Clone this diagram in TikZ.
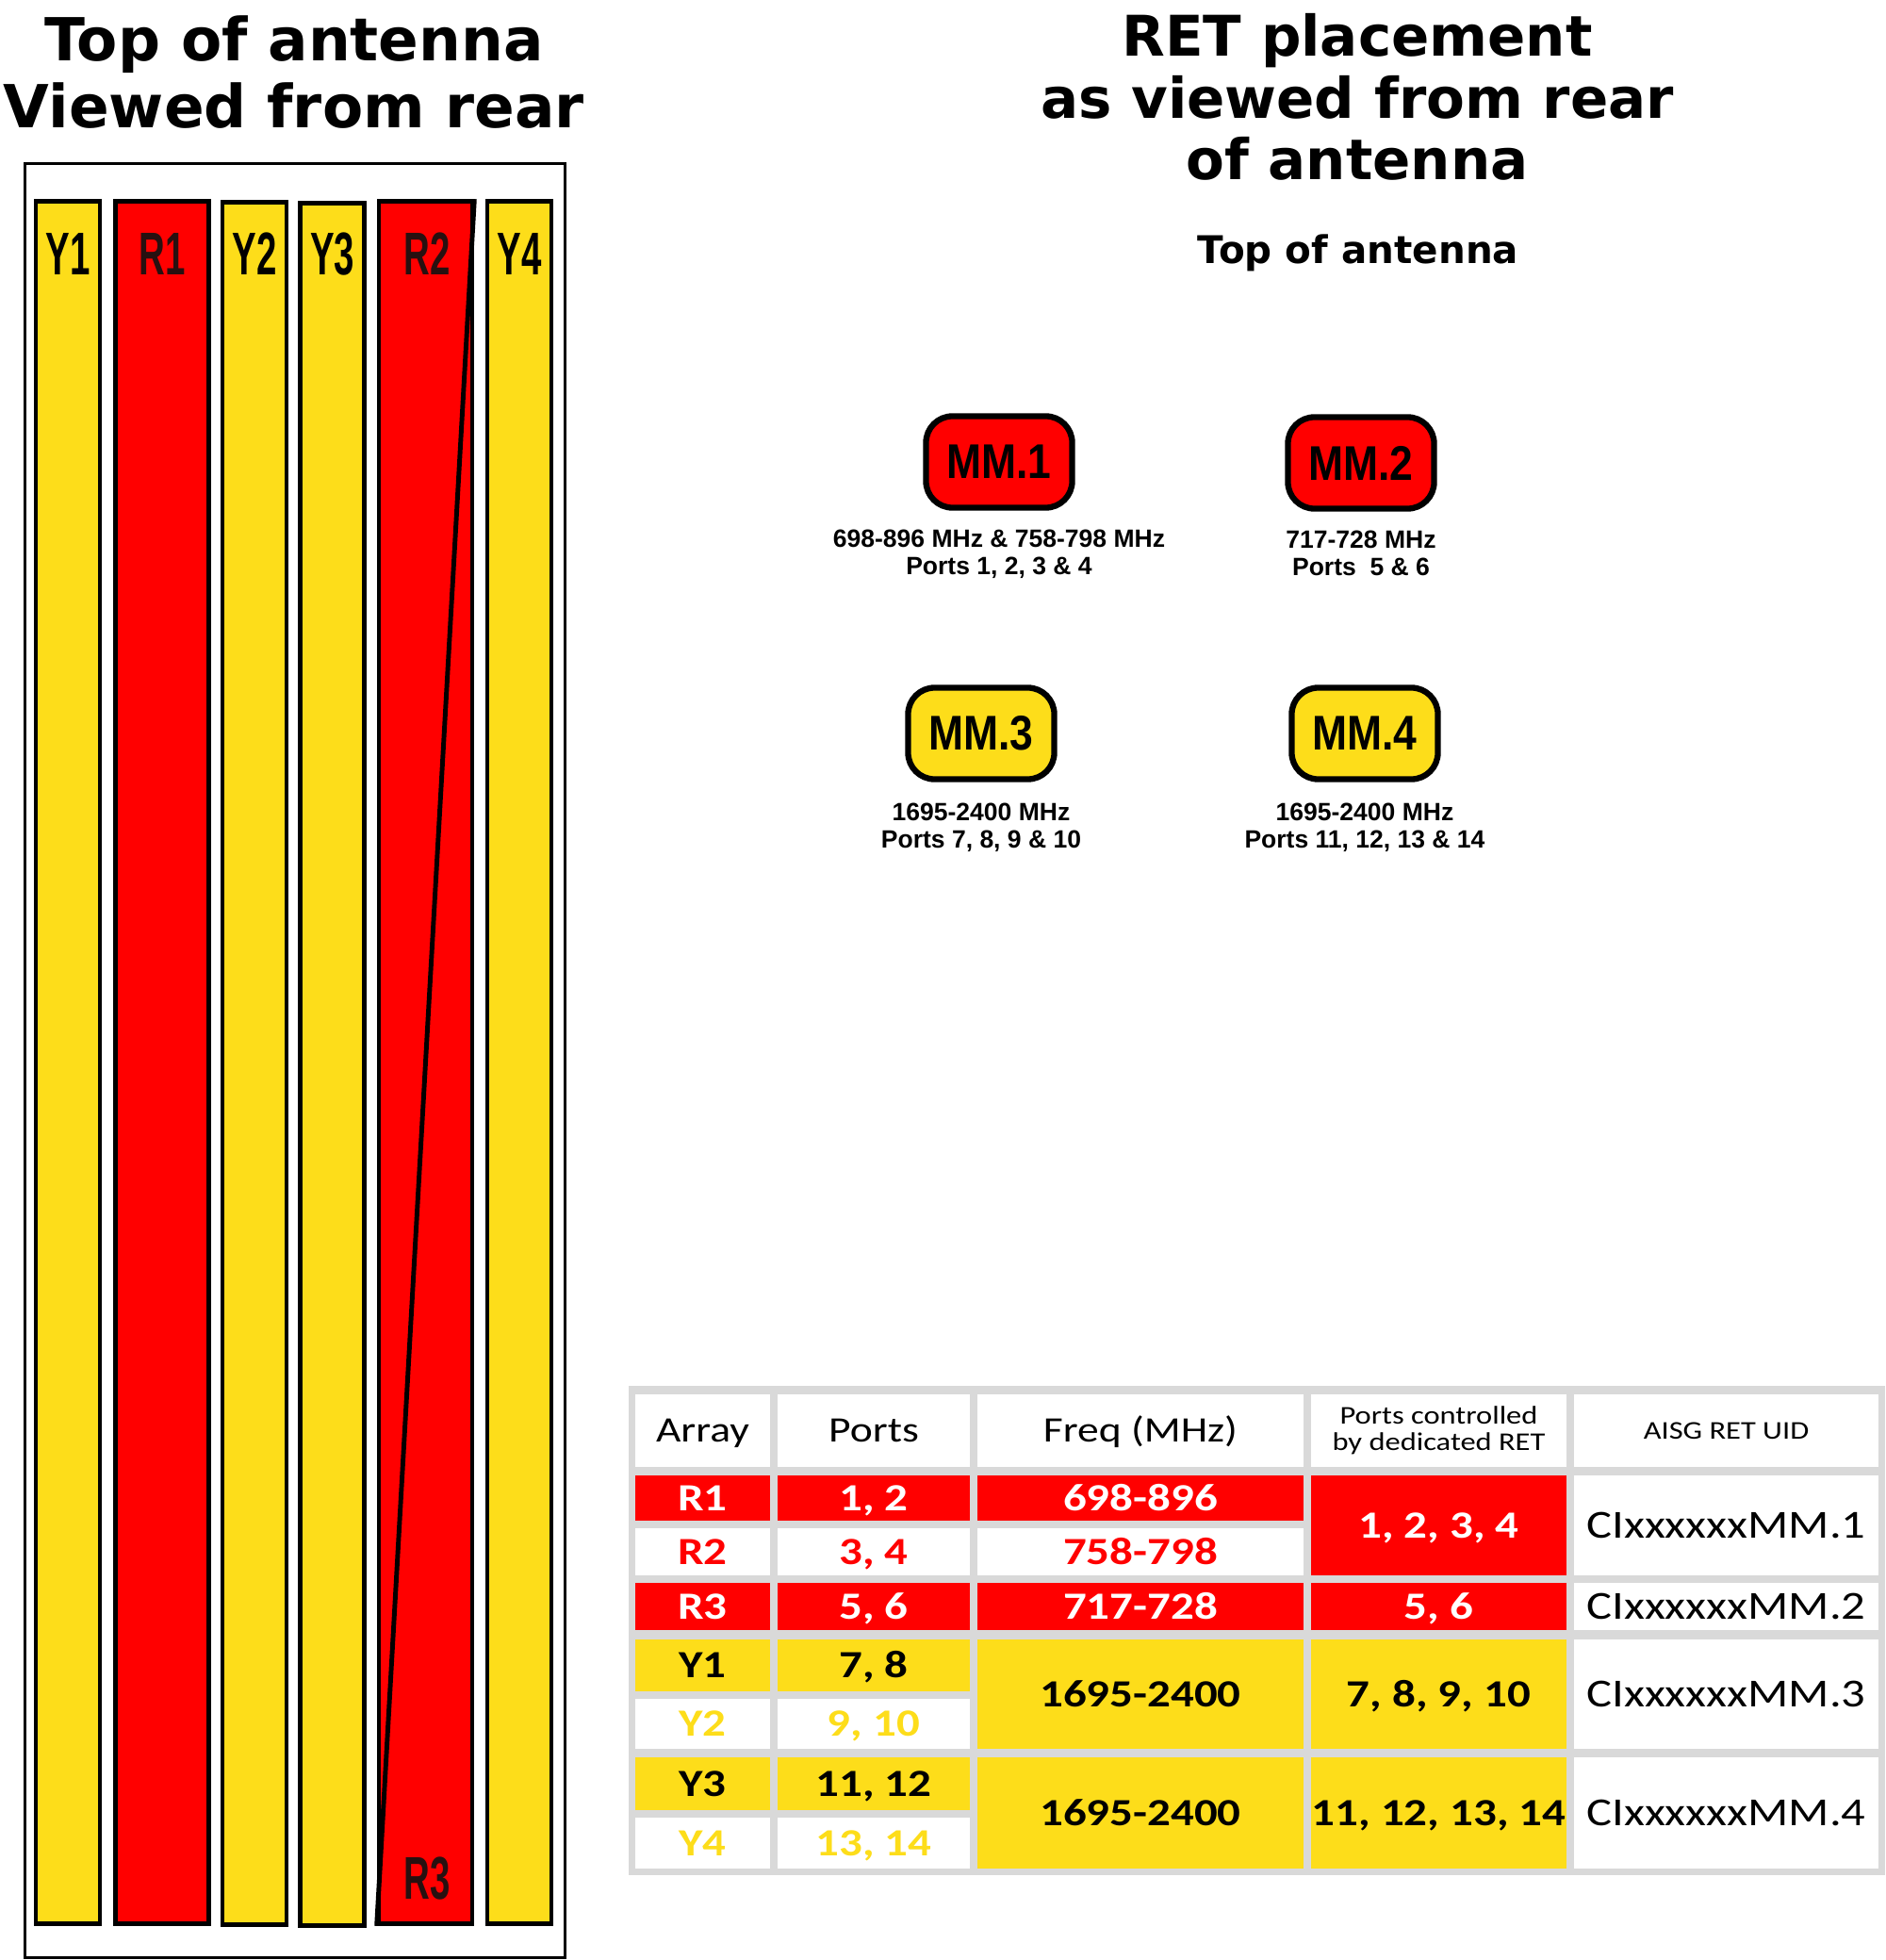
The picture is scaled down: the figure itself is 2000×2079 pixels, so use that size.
\documentclass[tikz,border=0pt]{standalone}
\usepackage{fontspec}
\setmainfont{Liberation Sans}
\newfontfamily\heavyfont{DejaVu Sans}
\newfontfamily\narrowfont{Liberation Sans}[FakeStretch=0.6]
\newfontfamily\mmfont{Liberation Sans}[FakeStretch=0.86]
\newfontfamily\tabfont{Carlito}[FakeStretch=1.2]

\definecolor{antred}{RGB}{255,0,0}
\definecolor{antyellow}{RGB}{253,221,26}
\definecolor{gridgray}{RGB}{217,217,217}
\definecolor{lbldark}{RGB}{40,16,16}

\tikzset{
  strip/.style={draw=black, line width=1.3pt, minimum height=18.26cm, inner sep=0pt},
  ystrip/.style={strip, fill=antyellow, minimum width=0.68cm},
  rstrip/.style={strip, fill=antred, minimum width=0.99cm},
  striplbl/.style={anchor=base, inner sep=0pt, font={\narrowfont\bfseries\fontsize{18.2}{20}\selectfont}},
  mmbox/.style={draw=black, line width=1.8pt, rounded corners=8pt, minimum width=1.55cm,
    minimum height=0.97cm, inner sep=0pt, font={\mmfont\bfseries\fontsize{14.7}{16}\selectfont}},
  mminfo/.style={align=center, inner sep=0pt, font={\bfseries\fontsize{7.54}{8.25}\selectfont}},
  % table cells
  cell/.style={inner sep=0pt, text depth=0pt},
  colA/.style={cell, minimum width=1.43cm},
  colB/.style={cell, minimum width=2.04cm},
  colC/.style={cell, minimum width=3.46cm},
  colD/.style={cell, minimum width=2.71cm},
  colE/.style={cell, minimum width=3.23cm},
  hdr/.style={fill=white, text height=7pt, font={\tabfont\fontsize{10.8}{12}\selectfont}},
  hdrsmall/.style={fill=white, align=center, text depth=, font={\tabfont\fontsize{7.7}{8}\selectfont}},
  body/.style={text height=7.5pt, font={\tabfont\bfseries\fontsize{11.6}{13}\selectfont}},
  uid/.style={fill=white, text height=7.7pt, font={\tabfont\fontsize{12}{13}\selectfont}},
  redcell/.style={body, fill=antred, text=white},
  whitered/.style={body, fill=white, text=antred},
  yelcell/.style={body, fill=antyellow, text=black},
  whiteyel/.style={body, fill=white, text=antyellow},
}

\begin{document}
\begin{tikzpicture}[x=0.01cm, y=-0.01cm]
\useasboundingbox (0,0) rectangle (2000,2079);

% antenna seen from the rear
\node[anchor=north, align=center, inner sep=0pt,
  font={\heavyfont\bfseries\fontsize{17.9}{20.2}\selectfont}] (lefttitle) at (312,16)
  {Top of antenna\\Viewed from rear};
\node[draw=black, line width=0.85pt, minimum width=5.73cm, minimum height=19.02cm, inner sep=0pt] (antenna) at (313,1125) {};

\node[ystrip] (y1) at (72,1127) {};
\node[rstrip] (r1) at (172,1127) {};
\node[ystrip] (y2) at (270,1128) {};
\node[ystrip] (y3) at (352.5,1129) {};
\node[rstrip] (r2) at (451.5,1127) {};
\node[ystrip] (y4) at (551,1127) {};
\draw[line width=1.4pt] (r2.north east) -- (r2.south west);

\node[striplbl] (y1lbl) at (72,292) {Y1};
\node[striplbl, text=lbldark] (r1lbl) at (172,292) {R1};
\node[striplbl] (y2lbl) at (270,292) {Y2};
\node[striplbl] (y3lbl) at (352.5,292) {Y3};
\node[striplbl, text=lbldark] (r2lbl) at (453,292) {R2};
\node[striplbl] (y4lbl) at (551,292) {Y4};
\node[striplbl, text=lbldark] (r3lbl) at (453,2014) {R3};

% RET placement
\node[anchor=north, align=center, inner sep=0pt,
  font={\heavyfont\bfseries\fontsize{16.9}{18.6}\selectfont}] (righttitle) at (1440,14)
  {RET placement\\as viewed from rear\\of antenna};
\node[anchor=base, inner sep=0pt, font={\heavyfont\bfseries\fontsize{11.5}{13}\selectfont}] (topnote) at (1441,280) {Top of antenna};

\node[mmbox, fill=antred] (mm1) at (1060,490) {MM.1};
\node[mmbox, fill=antred] (mm2) at (1444,491) {MM.2};
\node[mmbox, fill=antyellow] (mm3) at (1041,778) {MM.3};
\node[mmbox, fill=antyellow] (mm4) at (1448,778) {MM.4};

\node[mminfo, anchor=north] (mm1info) at ([yshift=-0.2cm]mm1.south) {698-896 MHz \& 758-798 MHz\\Ports 1, 2, 3 \& 4};
\node[mminfo, anchor=north] (mm2info) at ([yshift=-0.2cm]mm2.south) {717-728 MHz\\Ports\ \ 5 \& 6};
\node[mminfo, anchor=north] (mm3info) at ([yshift=-0.22cm]mm3.south) {1695-2400 MHz\\Ports 7, 8, 9 \& 10};
\node[mminfo, anchor=north] (mm4info) at ([yshift=-0.22cm]mm4.south) {1695-2400 MHz\\Ports 11, 12, 13 \& 14};

% table
\fill[gridgray] (667,1470) rectangle (2000,1989);

\node[colA, hdr, minimum height=0.77cm] (harray) at (745.5,1517.5) {Array};
\node[colB, hdr, minimum height=0.77cm] (hports) at (927,1517.5) {Ports};
\node[colC, hdr, minimum height=0.77cm] (hfreq) at (1210,1517.5) {Freq (MHz)};
\node[colD, hdrsmall, minimum height=0.77cm] (hret) at (1526.5,1517.5) {Ports controlled\\by dedicated RET};
\node[colE, hdrsmall, minimum height=0.77cm] (huid) at (1831.5,1517.5) {AISG RET UID};

\node[colA, redcell, minimum height=0.48cm] (r1a) at (745.5,1589) {R1};
\node[colB, redcell, minimum height=0.48cm] (r1p) at (927,1589) {1, 2};
\node[colC, redcell, minimum height=0.48cm] (r1f) at (1210,1589) {698-896};
\node[colA, whitered, minimum height=0.50cm] (r2a) at (745.5,1646) {R2};
\node[colB, whitered, minimum height=0.50cm] (r2p) at (927,1646) {3, 4};
\node[colC, whitered, minimum height=0.50cm] (r2f) at (1210,1646) {758-798};
\node[colD, redcell, minimum height=1.06cm] (r12ret) at (1526.5,1618) {1, 2, 3, 4};
\node[colE, uid, minimum height=1.06cm] (r12uid) at (1831.5,1618) {CIxxxxxxMM.1};

\node[colA, redcell, minimum height=0.50cm] (r3a) at (745.5,1704) {R3};
\node[colB, redcell, minimum height=0.50cm] (r3p) at (927,1704) {5, 6};
\node[colC, redcell, minimum height=0.50cm] (r3f) at (1210,1704) {717-728};
\node[colD, redcell, minimum height=0.50cm] (r3ret) at (1526.5,1704) {5, 6};
\node[colE, uid, minimum height=0.50cm] (r3uid) at (1831.5,1704) {CIxxxxxxMM.2};

\node[colA, yelcell, minimum height=0.55cm] (y1a) at (745.5,1766.5) {Y1};
\node[colB, yelcell, minimum height=0.55cm] (y1p) at (927,1766.5) {7, 8};
\node[colA, whiteyel, minimum height=0.53cm] (y2a) at (745.5,1828.5) {Y2};
\node[colB, whiteyel, minimum height=0.53cm] (y2p) at (927,1828.5) {9, 10};
\node[colC, yelcell, minimum height=1.16cm] (y12f) at (1210,1797) {1695-2400};
\node[colD, yelcell, minimum height=1.16cm] (y12ret) at (1526.5,1797) {7, 8, 9, 10};
\node[colE, uid, minimum height=1.16cm] (y12uid) at (1831.5,1797) {CIxxxxxxMM.3};

\node[colA, yelcell, minimum height=0.56cm] (y3a) at (745.5,1892) {Y3};
\node[colB, yelcell, minimum height=0.56cm] (y3p) at (927,1892) {11, 12};
\node[colA, whiteyel, minimum height=0.54cm] (y4a) at (745.5,1955) {Y4};
\node[colB, whiteyel, minimum height=0.54cm] (y4p) at (927,1955) {13, 14};
\node[colC, yelcell, minimum height=1.18cm] (y34f) at (1210,1923) {1695-2400};
\node[colD, yelcell, minimum height=1.18cm] (y34ret) at (1526.5,1923) {11, 12, 13, 14};
\node[colE, uid, minimum height=1.18cm] (y34uid) at (1831.5,1923) {CIxxxxxxMM.4};
\end{tikzpicture}
\end{document}
